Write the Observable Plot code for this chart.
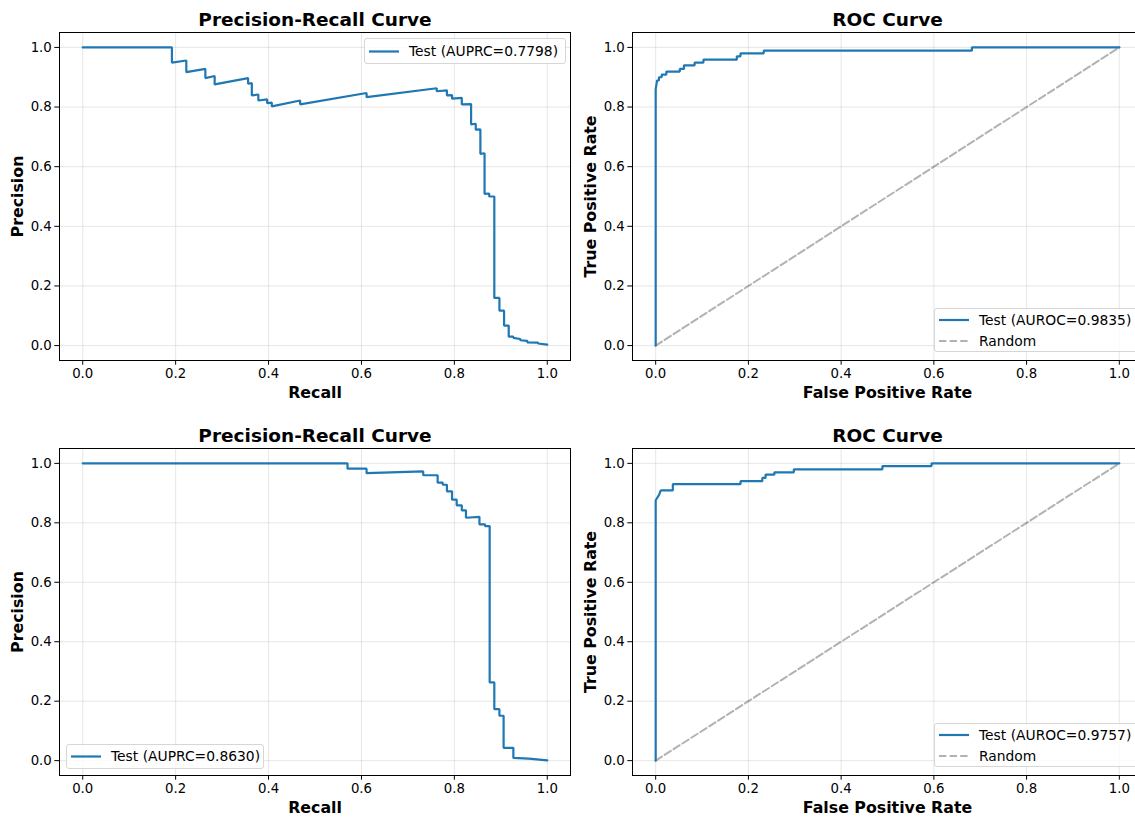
<!DOCTYPE html>
<html><head><meta charset="utf-8">
<script src="https://cdn.jsdelivr.net/npm/d3@7"></script>
<script src="https://cdn.jsdelivr.net/npm/@observablehq/plot@0.6"></script>
<style>
html,body{margin:0;padding:0;background:#fff;overflow:hidden;}
#fig{position:relative;width:1135px;height:818px;overflow:hidden;font-family:"DejaVu Sans",sans-serif;background:#fff;}
.panel{position:absolute;}
.legend{position:absolute;border:1px solid #d6d6d6;border-radius:3px;background:rgba(255,255,255,0.8);box-sizing:border-box;font-family:"DejaVu Sans",sans-serif;font-size:13.85px;color:#000;}
.legend .lbl{position:absolute;white-space:nowrap;line-height:16px;}
.legend svg{position:absolute;left:0;top:0;overflow:visible;}
</style></head><body><div id="fig"></div>
<script>
// ---- Data ----
const axisTicks = [0, 0.2, 0.4, 0.6, 0.8, 1.0];

// Top-left: Precision-Recall (AUPRC=0.7798)
const pr1Recall = [0,0.192,0.192,0.223,0.223,0.264,0.264,0.284,0.284,0.356,0.356,0.364,0.364,0.378,0.378,0.397,0.397,0.407,0.407,0.468,0.468,0.611,0.611,0.762,0.762,0.784,0.784,0.795,0.795,0.816,0.816,0.836,0.836,0.846,0.846,0.856,0.856,0.865,0.865,0.875,0.875,0.886,0.886,0.897,0.897,0.907,0.907,0.917,0.917,0.927,0.927,0.942,0.942,0.957,0.957,0.98,0.98,1.0];
const pr1Precision = [1,1,0.949,0.956,0.917,0.928,0.897,0.904,0.876,0.897,0.878,0.880,0.839,0.842,0.822,0.826,0.813,0.815,0.802,0.822,0.809,0.847,0.833,0.863,0.853,0.856,0.839,0.840,0.828,0.831,0.809,0.810,0.742,0.744,0.724,0.725,0.643,0.645,0.509,0.510,0.500,0.500,0.160,0.160,0.117,0.117,0.067,0.067,0.030,0.030,0.026,0.022,0.018,0.016,0.011,0.010,0.007,0.003];
const pr1Label = "Test (AUPRC=0.7798)";

// Top-right: ROC (AUROC=0.9835)
const roc1Fpr = [0,0,0.003,0.007,0.007,0.013,0.013,0.023,0.023,0.052,0.052,0.061,0.061,0.084,0.084,0.103,0.103,0.175,0.175,0.183,0.183,0.233,0.233,0.682,0.682,1.0];
const roc1Tpr = [0,0.86,0.889,0.889,0.900,0.900,0.909,0.909,0.919,0.919,0.928,0.928,0.940,0.940,0.949,0.949,0.959,0.959,0.970,0.970,0.980,0.980,0.989,0.989,1.0,1.0];
const roc1Label = "Test (AUROC=0.9835)";

// Bottom-left: Precision-Recall (AUPRC=0.8630)
const pr2Recall = [0,0.570,0.570,0.611,0.611,0.733,0.733,0.764,0.764,0.775,0.775,0.784,0.784,0.795,0.795,0.805,0.805,0.816,0.816,0.825,0.825,0.854,0.854,0.866,0.866,0.876,0.876,0.886,0.886,0.897,0.897,0.906,0.906,0.927,0.927,0.96,1.0];
const pr2Precision = [1,1,0.982,0.982,0.967,0.973,0.960,0.960,0.935,0.935,0.928,0.928,0.906,0.906,0.878,0.878,0.859,0.859,0.842,0.842,0.817,0.820,0.795,0.795,0.789,0.789,0.263,0.263,0.173,0.173,0.151,0.151,0.043,0.043,0.009,0.007,0.001];
const pr2Label = "Test (AUPRC=0.8630)";

// Bottom-right: ROC (AUROC=0.9757)
const roc2Fpr = [0,0,0.007,0.011,0.037,0.037,0.183,0.183,0.230,0.230,0.237,0.237,0.256,0.256,0.298,0.298,0.489,0.489,0.595,0.595,1.0];
const roc2Tpr = [0,0.876,0.893,0.909,0.909,0.930,0.930,0.940,0.940,0.951,0.951,0.962,0.962,0.970,0.970,0.980,0.980,0.991,0.991,1.0,1.0];
const roc2Label = "Test (AUROC=0.9757)";

// Random baseline
const randomX = [0, 1];
const randomY = [0, 1];
const randomLabel = "Random";

const titles = ["Precision-Recall Curve", "ROC Curve"];
const xLabels = ["Recall", "False Positive Rate"];
const yLabels = ["Precision", "True Positive Rate"];

// ---- Styles ----
const BLUE = "#1f77b4";
const DASH = "7.4,3.2";
const fig = document.getElementById("fig");

function zip(xs, ys) { return xs.map((x, i) => ({x, y: ys[i]})); }

function panel(cfg) {
  const marks = [
    Plot.gridX(axisTicks, {stroke: "#b0b0b0", strokeOpacity: 0.3, strokeWidth: 1}),
    Plot.gridY(axisTicks, {stroke: "#b0b0b0", strokeOpacity: 0.3, strokeWidth: 1})
  ];
  if (cfg.diag) {
    marks.push(Plot.line(zip(randomX, randomY), {x: "x", y: "y", stroke: "black", strokeOpacity: 0.3, strokeWidth: 2, strokeDasharray: DASH}));
  }
  marks.push(Plot.line(cfg.series, {x: "x", y: "y", stroke: BLUE, strokeWidth: 2.2, strokeLinejoin: "miter"}));
  marks.push(
    Plot.axisX(axisTicks, {tickFormat: d3.format(".1f"), tickSize: 4.7, tickPadding: 3, fontSize: 13.3, label: null}),
    Plot.axisY(axisTicks, {tickFormat: d3.format(".1f"), tickSize: 4.7, tickPadding: 3, fontSize: 13.3, label: null}),
    Plot.frame({stroke: "black", strokeWidth: 1}),
    Plot.text([cfg.title], {text: d => d, frameAnchor: "top", dy: -6.3, lineAnchor: "bottom", textAnchor: "middle", fontSize: 18.5, fontWeight: "bold", fill: "black"}),
    Plot.text([cfg.xLabel], {text: d => d, frameAnchor: "bottom", dy: 37.7, lineAnchor: "bottom", textAnchor: "middle", fontSize: 15.8, fontWeight: "bold", fill: "black"}),
    Plot.text([cfg.yLabel], {text: d => d, frameAnchor: "left", dx: cfg.yLabelDx, rotate: -90, lineAnchor: "bottom", textAnchor: "middle", fontSize: 15.8, fontWeight: "bold", fill: "black"})
  );
  const svg = Plot.plot({
    width: cfg.width, height: cfg.height,
    marginLeft: cfg.ml, marginRight: cfg.mr, marginTop: cfg.mt, marginBottom: cfg.mb,
    x: {domain: [-0.05, 1.05]}, y: {domain: [-0.05, 1.05]},
    style: {fontFamily: "DejaVu Sans, sans-serif", fontSize: "13.3px", background: "transparent", color: "black", overflow: "visible"},
    marks
  });
  svg.classList.add("panel");
  svg.style.left = cfg.left + "px";
  svg.style.top = cfg.top + "px";
  svg.style.maxWidth = "none";
  fig.appendChild(svg);
}

function legend(cfg) {
  const div = document.createElement("div");
  div.className = "legend";
  div.style.left = cfg.left + "px"; div.style.top = cfg.top + "px";
  div.style.width = cfg.w + "px"; div.style.height = cfg.h + "px";
  const ns = "http://www.w3.org/2000/svg";
  const s = document.createElementNS(ns, "svg");
  s.setAttribute("width", cfg.w); s.setAttribute("height", cfg.h);
  cfg.items.forEach(it => {
    const l = document.createElementNS(ns, "line");
    l.setAttribute("x1", 4); l.setAttribute("x2", 34);
    l.setAttribute("y1", it.y); l.setAttribute("y2", it.y);
    l.setAttribute("stroke", it.color);
    l.setAttribute("stroke-width", it.width);
    if (it.opacity) l.setAttribute("stroke-opacity", it.opacity);
    if (it.dash) l.setAttribute("stroke-dasharray", it.dash);
    s.appendChild(l);
    const t = document.createElement("div");
    t.className = "lbl";
    t.textContent = it.label;
    t.style.left = "44px";
    t.style.top = (it.y - 8.5) + "px";
    div.appendChild(t);
  });
  div.insertBefore(s, div.firstChild);
  fig.appendChild(div);
}

// Top row
panel({left: 0, top: 0, width: 575, height: 410, ml: 59, mr: 5, mt: 32, mb: 50, yLabelDx: -36.3,
  series: zip(pr1Recall, pr1Precision), title: titles[0], xLabel: xLabels[0], yLabel: yLabels[0]});
panel({left: 575, top: 0, width: 567, height: 410, ml: 57, mr: 0, mt: 32, mb: 50, yLabelDx: -36.5, diag: true,
  series: zip(roc1Fpr, roc1Tpr), title: titles[1], xLabel: xLabels[1], yLabel: yLabels[1]});
// Bottom row
panel({left: 0, top: 410, width: 575, height: 408, ml: 59, mr: 5, mt: 38, mb: 43, yLabelDx: -36.3,
  series: zip(pr2Recall, pr2Precision), title: titles[0], xLabel: xLabels[0], yLabel: yLabels[0]});
panel({left: 575, top: 410, width: 567, height: 408, ml: 57, mr: 0, mt: 38, mb: 43, yLabelDx: -36.5, diag: true,
  series: zip(roc2Fpr, roc2Tpr), title: titles[1], xLabel: xLabels[1], yLabel: yLabels[1]});

// Legends
legend({left: 364, top: 38, w: 202, h: 26, items: [{label: pr1Label, color: BLUE, width: 2.2, y: 12.5}]});
legend({left: 934, top: 308, w: 204, h: 44, items: [
  {label: roc1Label, color: BLUE, width: 2.2, y: 11},
  {label: randomLabel, color: "black", opacity: 0.3, width: 2, dash: DASH, y: 32}]});
legend({left: 66, top: 744, w: 198, h: 25, items: [{label: pr2Label, color: BLUE, width: 2.2, y: 11.5}]});
legend({left: 934, top: 723, w: 204, h: 44, items: [
  {label: roc2Label, color: BLUE, width: 2.2, y: 11},
  {label: randomLabel, color: "black", opacity: 0.3, width: 2, dash: DASH, y: 32}]});
</script></body></html>
